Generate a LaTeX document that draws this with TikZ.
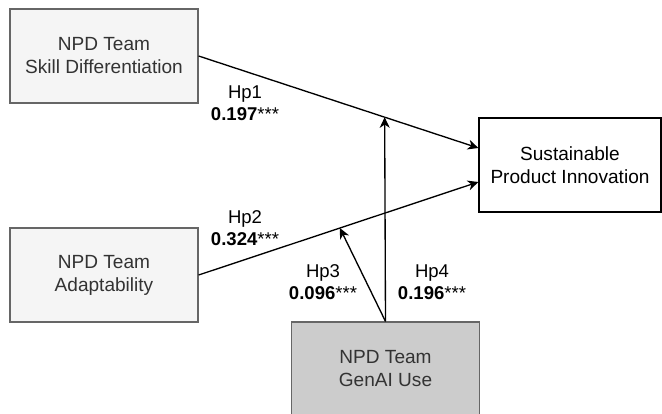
\documentclass[tikz,border=0pt]{standalone}
\usepackage{fontspec}
\setmainfont{Liberation Sans}
\usetikzlibrary{arrows.meta}
\definecolor{boxline}{HTML}{666666}
\definecolor{boxtext}{HTML}{333333}
\definecolor{lightfill}{HTML}{F5F5F5}
\definecolor{darkfill}{HTML}{CCCCCC}
\begin{document}
\begin{tikzpicture}[x=0.75pt, y=-0.75pt,
  construct/.style={draw=boxline, fill=lightfill, text=boxtext, line width=0.9pt,
    minimum width=141pt, minimum height=70.5pt, inner sep=0pt, align=center,
    font=\fontsize{14.3}{17.25}\selectfont},
  link/.style={-{Stealth[length=8pt, width=7.5pt, inset=2.5pt]}, line width=1pt},
  hyp/.style={align=center, inner sep=0pt, font=\fontsize{13.9}{16.5}\selectfont}]
\useasboundingbox (0,0) rectangle (662,414);
\clip (0,0) rectangle (662,414);
% constructs
\node[construct] (skill) at (104,56) {NPD Team\\Skill Differentiation};
\node[construct] (adapt) at (104,275) {NPD Team\\Adaptability};
\node[construct, fill=darkfill] (genai) at (385.5,369) {NPD Team\\GenAI Use};
\node[construct, draw=black, fill=white, text=black, minimum width=136.5pt] (spi) at (570,165) {Sustainable\\Product Innovation};
% direct paths
\draw[link] (skill.east) -- coordinate[pos=0.665] (mod1) ([yshift=12.75pt]spi.west);
\draw[link] (adapt.east) -- coordinate[pos=0.505] (mod2) ([yshift=-12.75pt]spi.west);
% moderation
\draw[link] (genai.north) -- (mod1);
\draw[link] (genai.north) -- (mod2);
% labels
\node[hyp] (hp1) at (245,103) {Hp1\\\textbf{0.197}***};
\node[hyp] (hp2) at (245,228.5) {Hp2\\\textbf{0.324}***};
\node[hyp] (hp3) at (323,282) {Hp3\\\textbf{0.096}***};
\node[hyp] (hp4) at (432,282) {Hp4\\\textbf{0.196}***};
\end{tikzpicture}
\end{document}
